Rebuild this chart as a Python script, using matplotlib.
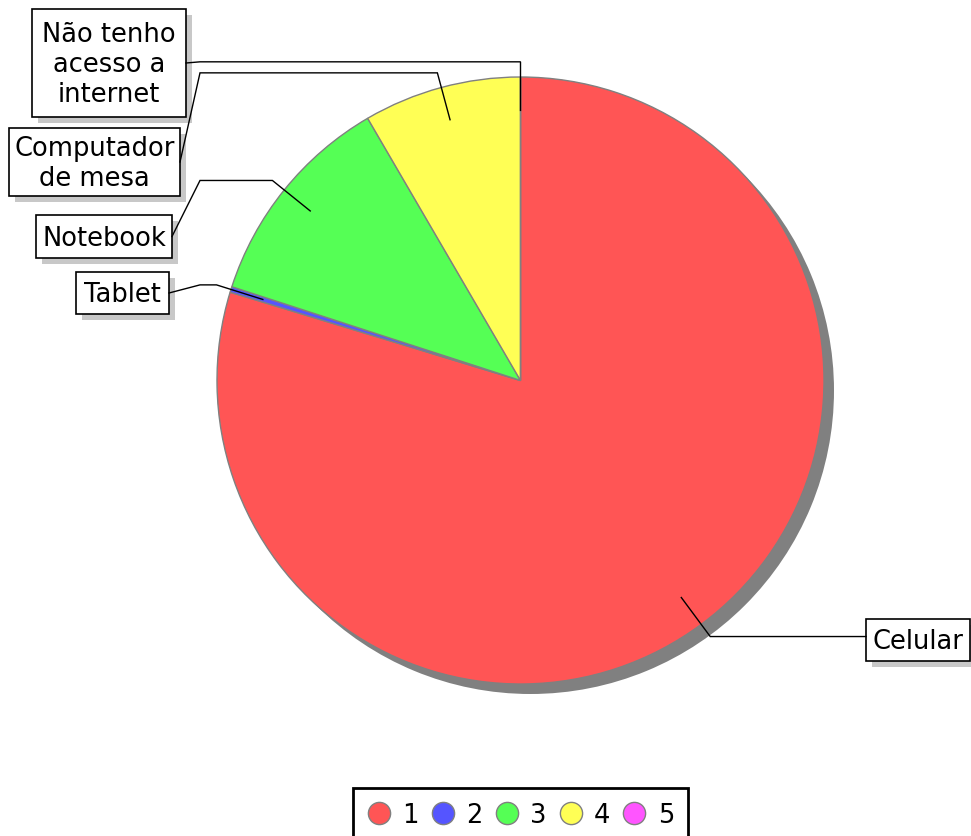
import numpy as np
import matplotlib.pyplot as plt
from matplotlib.lines import Line2D
from matplotlib.patches import Rectangle

# data
categories = ["Celular", "Tablet", "Notebook", "Computador\nde mesa",
              "Não tenho\nacesso a\ninternet"]
values = [79.7, 0.3, 11.6, 8.4, 0.0]
legend_labels = ["1", "2", "3", "4", "5"]
colors = ["#FF5555", "#5555FF", "#55FF55", "#FFFF55", "#FF55FF"]

# label boxes in pixels: (left, top, width, height)
boxes = [(866, 620, 104, 42), (76, 273, 93, 42), (36, 216, 136, 43),
         (9, 129, 171, 68), (32, 10, 154, 108)]
W, H = 971, 837
cx, cy, R = 520.5, 381.5, 303.5

fig = plt.figure(figsize=(W / 100, H / 100), dpi=100)

pie_ax = fig.add_axes([(cx - R) / W, 1 - (cy + R) / H, 2 * R / W, 2 * R / H])
sh, _ = pie_ax.pie([1], colors=["#808080"], radius=1,
                   center=(10 / R, -10 / R), wedgeprops=dict(linewidth=0))
wedges, _ = pie_ax.pie(values, colors=colors, startangle=90, counterclock=False,
                       radius=1, wedgeprops=dict(edgecolor="#808080", linewidth=1))
for w in sh + wedges:
    w.set_clip_on(False)
pie_ax.set_xlim(-1, 1)
pie_ax.set_ylim(-1, 1)
pie_ax.axis("off")

# overlay in pixel coords for the labels
ax = fig.add_axes([0, 0, 1, 1], zorder=5)
ax.set_xlim(0, W)
ax.set_ylim(H, 0)
ax.axis("off")
ax.patch.set_alpha(0)

fig.canvas.draw()
to_px = pie_ax.transData + ax.transData.inverted()

for wdg, label, (bx, by, bw, bh) in zip(wedges, categories, boxes):
    mid = np.deg2rad((wdg.theta1 + wdg.theta2) / 2)
    a = to_px.transform((0.89 * np.cos(mid), 0.89 * np.sin(mid)))
    e = to_px.transform((1.05 * np.cos(mid), 1.05 * np.sin(mid)))
    ym = by + bh / 2
    if bx > cx:
        xs = [a[0], e[0], bx]
        ys = [a[1], e[1], e[1]]
    else:
        xs = [a[0], e[0], 200, bx + bw]
        ys = [a[1], e[1], e[1], ym]
    ax.plot(xs, ys, color="black", linewidth=1, solid_joinstyle="miter")
    ax.add_patch(Rectangle((bx + 6, by + 6), bw, bh, facecolor="#C8C8C8",
                           edgecolor="none"))
    ax.add_patch(Rectangle((bx, by), bw, bh, facecolor="white",
                           edgecolor="black", linewidth=1.2))
    ax.text(bx + bw / 2, ym + 1, label, ha="center", va="center",
            fontsize=18.5, linespacing=1.2, family="DejaVu Sans")

handles = [Line2D([], [], marker="o", linestyle="", markersize=16,
                  markerfacecolor=c, markeredgecolor="#808080") for c in colors]
leg = fig.legend(handles, legend_labels, loc="upper center",
                 bbox_to_anchor=(cx / W, 1 - 789 / H), ncol=5, frameon=True,
                 fancybox=False, edgecolor="black", framealpha=1, fontsize=18.5,
                 handlelength=0.9, handletextpad=0.45, columnspacing=0.5,
                 borderpad=0.55, borderaxespad=0)
leg.get_frame().set_linewidth(2)

plt.savefig("out.png", dpi=100)
